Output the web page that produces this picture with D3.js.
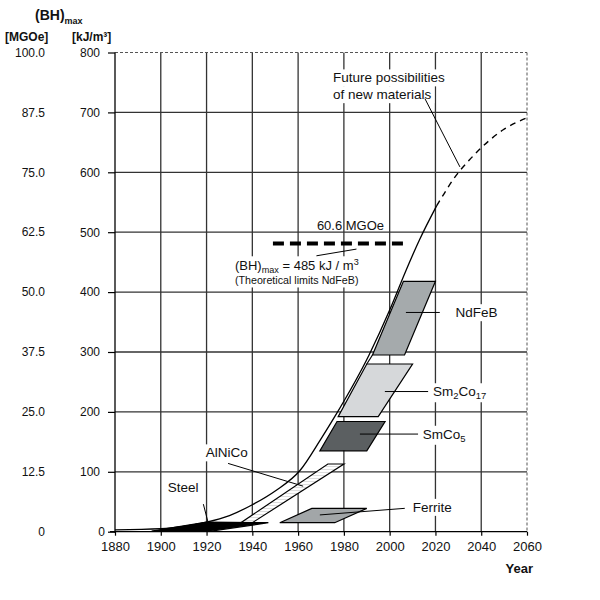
<!DOCTYPE html>
<html><head><meta charset="utf-8">
<script src="https://cdn.jsdelivr.net/npm/d3@7"></script>
<style>
body{margin:0;background:#fff}
svg{display:block}
text{font-family:"Liberation Sans",Arial,Helvetica,sans-serif;fill:#111}
</style>
</head><body>
<svg id="chart" width="600" height="600"></svg>
<script>
// ---- data ----
const yearTicks = [1880,1900,1920,1940,1960,1980,2000,2020,2040,2060];
const kjTicks = [0,100,200,300,400,500,600,700,800];
const mgoeLabels = ["0","12.5","25.0","37.5","50.0","62.5","75.0","87.5","100.0"];

// overall (BH)max development, solid (achieved) part
const trendYears  = [1880,1900,1910,1920,1930,1940,1950,1961,1970,1976,1991,2000,2007,2013,2020.5];
const trendValues = [3,5,9,16,27,45,68,103,155,192,295,370,435,487,544];
// dashed future part
const futureYears  = [2020.5,2022.6,2028.5,2034.7,2043.8,2049.6,2060];
const futureValues = [544,557,592,620,654,671,691];

// material regions (year, kJ/m3)
const steelYears   = [1896,1920,1947,1922];
const steelValues  = [1,16,15,1];
const alnicoYears  = [1935,1940,1980,1973];
const alnicoValues = [15,15,113,113];
const ferriteYears  = [1952,1976,1990,1966];
const ferriteValues = [15,15,39,39];
const smco5Years  = [1969.5,1990,1998,1977];
const smco5Values = [135,135,184,184];
const sm2co17Years  = [1977.5,1995,2010,1990];
const sm2co17Values = [192,192,280,280];
const ndfebYears  = [1992.5,2006.5,2020,2006];
const ndfebValues = [295,295,418,418];
const connectorYears = [1990,1992.5];
const connectorValues = [280,295];

const limitValue = 481;          // theoretical limit NdFeB (485 kJ/m3 = 60.6 MGOe)
const limitYears = [1949,2008];

// ---- scales ----
const svg = d3.select("#chart");
const x = d3.scaleLinear().domain([1880,2060]).range([115,527]);
const y = d3.scaleLinear().domain([0,800]).range([531.7,52.5]);
const pts = (xs,ys)=>xs.map((d,i)=>[x(d),y(ys[i])]);

// ---- grid ----
const grid = svg.append("g");
grid.selectAll(".vg").data(yearTicks.slice(1,-1)).join("line")
  .attr("x1",d=>x(d)).attr("x2",d=>x(d)).attr("y1",y(0)).attr("y2",y(800))
  .attr("stroke","#333").attr("stroke-width",1.3);
grid.selectAll(".hg").data(kjTicks.slice(1,-1)).join("line")
  .attr("x1",x(1880)).attr("x2",x(2060)).attr("y1",d=>y(d)).attr("y2",d=>y(d))
  .attr("stroke","#333").attr("stroke-width",1.3);
// dashed top and right borders
grid.append("line").attr("x1",x(1880)).attr("x2",x(2060)).attr("y1",y(800)).attr("y2",y(800))
  .attr("stroke","#555").attr("stroke-width",1).attr("stroke-dasharray","3,2");
grid.append("line").attr("x1",x(2060)).attr("x2",x(2060)).attr("y1",y(800)).attr("y2",y(0))
  .attr("stroke","#555").attr("stroke-width",1).attr("stroke-dasharray","3,2");

// ---- axes ----
const xAxis = d3.axisBottom(x).tickValues(yearTicks).tickSize(4).tickPadding(6).tickFormat(d3.format("d"));
const gx = svg.append("g").attr("transform",`translate(0,${y(0)})`).call(xAxis);
gx.select(".domain").attr("stroke","#000").attr("stroke-width",1.3).attr("d",`M${x(1880)-5},0H${x(2060)}`);
gx.selectAll(".tick line").attr("stroke","#000").attr("stroke-width",1.2);
gx.selectAll(".tick text").attr("font-size",13).attr("fill","#111")
  .attr("font-family","Liberation Sans, Arial, sans-serif");

const yAxis = d3.axisLeft(y).tickValues(kjTicks).tickSize(7).tickPadding(8).tickFormat(d3.format("d"));
const gy = svg.append("g").attr("transform",`translate(${x(1880)},0)`).call(yAxis);
gy.select(".domain").attr("stroke","#000").attr("stroke-width",1.3).attr("d",`M0,${y(0)+1}V${y(800)}`);
gy.selectAll(".tick line").attr("stroke","#000").attr("stroke-width",1.2);
gy.selectAll(".tick text").attr("font-size",12).attr("fill","#111")
  .attr("font-family","Liberation Sans, Arial, sans-serif")
  .attr("dx",d=>d===0?5:0);

// MGOe secondary labels
svg.append("g").selectAll("text").data(kjTicks).join("text")
  .attr("x",45).attr("y",d=>y(d)).attr("dy","0.35em").attr("text-anchor","end")
  .attr("font-size",12).text((d,i)=>mgoeLabels[i]);

// header
const h = svg.append("text").attr("x",35).attr("y",20).attr("font-weight","bold").attr("font-size",14);
h.append("tspan").text("(BH)");
h.append("tspan").attr("font-size",9).attr("dy",4).text("max");
svg.append("text").attr("x",5).attr("y",41).attr("font-weight","bold").attr("font-size",12).text("[MGOe]");
svg.append("text").attr("x",72).attr("y",41).attr("font-weight","bold").attr("font-size",12).text("[kJ/m³]");
svg.append("text").attr("x",533).attr("y",573).attr("text-anchor","end").attr("font-weight","bold").attr("font-size",13).text("Year");

// ---- label backgrounds + labels ----
const labelLayer = svg.append("g");
const markLayer = svg.append("g");
const textLayer = svg.append("g");

function label(yr,val,parts,size,bg){
  const t = textLayer.append("text").attr("x",x(yr)).attr("y",y(val)).attr("dy","0.35em").attr("font-size",size);
  parts.forEach(p=>{
    const s = t.append("tspan").text(p.t);
    if(p.sub){ s.attr("font-size",size*0.7).attr("dy",p.dy); }
    if(p.reset){ s.attr("dy",p.dy); }
  });
  if(bg){
    const b = t.node().getBBox();
    labelLayer.append("rect").attr("x",b.x-3).attr("y",b.y-1).attr("width",b.width+6).attr("height",b.height+2).attr("fill","#fff");
  }
  return t;
}

// ---- patterns ----
const defs = svg.append("defs");
const pat = defs.append("pattern").attr("id","stripe").attr("patternUnits","userSpaceOnUse").attr("width",6).attr("height",3);
pat.append("rect").attr("width",6).attr("height",3).attr("fill","#fff");
pat.append("line").attr("x1",0).attr("x2",6).attr("y1",1.5).attr("y2",1.5).attr("stroke","#ddd").attr("stroke-width",1);

// ---- material regions ----
const poly = d3.line();
function region(xs,ys,fill){
  markLayer.append("path").attr("d",poly(pts(xs,ys))+"Z").attr("fill",fill)
    .attr("stroke","#000").attr("stroke-width",1.2).attr("stroke-linejoin","miter");
}
region(ferriteYears,ferriteValues,"#a2a6a8");
region(alnicoYears,alnicoValues,"url(#stripe)");
region(steelYears,steelValues,"#000");
region(smco5Years,smco5Values,"#5b5f61");
region(sm2co17Years,sm2co17Values,"#d6d8da");
region(ndfebYears,ndfebValues,"#a5aaac");
markLayer.append("path").attr("d",poly(pts(connectorYears,connectorValues))).attr("stroke","#000").attr("stroke-width",1.2).attr("fill","none");

// ---- trend curves ----
const smooth = d3.line().curve(d3.curveMonotoneX);
markLayer.append("path").attr("d",smooth(pts(trendYears,trendValues)))
  .attr("fill","none").attr("stroke","#000").attr("stroke-width",1.3);
markLayer.append("path").attr("d",smooth(pts(futureYears,futureValues)))
  .attr("fill","none").attr("stroke","#000").attr("stroke-width",1.4).attr("stroke-dasharray","6,5");

// theoretical limit
markLayer.append("line").attr("x1",x(limitYears[0])).attr("x2",x(limitYears[1]))
  .attr("y1",y(limitValue)).attr("y2",y(limitValue))
  .attr("stroke","#000").attr("stroke-width",4).attr("stroke-dasharray","11,6");

// ---- pointer lines ----
function pointer(y1,v1,y2,v2){
  markLayer.append("line").attr("x1",x(y1)).attr("y1",y(v1)).attr("x2",x(y2)).attr("y2",y(v2))
    .attr("stroke","#000").attr("stroke-width",1);
}
pointer(2007.1,366,2021.9,366);     // NdFeB
pointer(1997.9,234,2016.8,234);     // Sm2Co17
pointer(1987,163,2012.4,163);       // SmCo5
pointer(1969.5,28,2006.6,39);       // Ferrite
pointer(1929.4,114,1962.2,76);      // AlNiCo
pointer(1918.6,46,1920.7,15);       // Steel
pointer(2015.4,723,2030.7,609);     // future
pointer(1968,460.6,1985.5,471.8);   // theoretical limit

// ---- labels ----
label(2028.8,366,[{t:"NdFeB"}],13.5,true);
label(2018.9,234,[{t:"Sm"},{t:"2",sub:true,dy:3},{t:"Co",reset:true,dy:-3},{t:"17",sub:true,dy:3}],13.5,true);
label(2014.5,163,[{t:"SmCo"},{t:"5",sub:true,dy:3}],13.5,true);
label(2010.1,41,[{t:"Ferrite"}],13.5,true);
label(1919.7,132,[{t:"AlNiCo"}],13.5,true);
label(1903,74,[{t:"Steel"}],13.5,true);
label(1975.2,758,[{t:"Future possibilities"}],13.5,true);
label(1975.2,730,[{t:"of new materials"}],13.5,true);
label(1968.2,512,[{t:"60.6 MGOe"}],13,false);
label(1932.4,444,[{t:"(BH)"},{t:"max",sub:true,dy:3},{t:" = 485 kJ / m",reset:true,dy:-3},{t:"3",sub:true,dy:-5}],13,true);
label(1932.4,419,[{t:"(Theoretical limits NdFeB)"}],10.7,true);
</script>
</body></html>
